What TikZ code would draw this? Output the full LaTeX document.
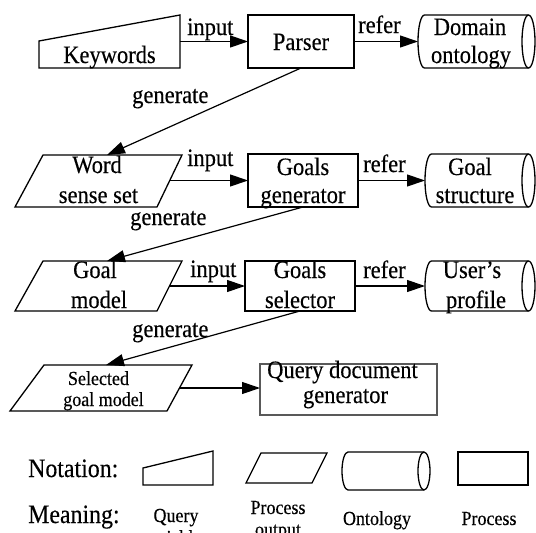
\documentclass[tikz,border=0pt]{standalone}
\usepackage{fontspec}
\setmainfont{Liberation Serif}[FakeStretch=0.9,FakeBold=0.3]
\usetikzlibrary{arrows.meta}
\newcommand\mycyl[6]{%
  % #1 left, #2 right, #3 top, #4 bottom, #5 x radius, #6 half height
  \draw[shp] (#1+#5,#3) -- (#2-#5,#3)
    arc[start angle=-90,end angle=90,x radius=#5,y radius=#6]
    -- (#1+#5,#4)
    arc[start angle=90,end angle=270,x radius=#5,y radius=#6] -- cycle;
  \draw[shp] (#2-#5,#3) arc[start angle=-90,end angle=-270,x radius=#5,y radius=#6];
}
\begin{document}
\begin{tikzpicture}[x=1pt,y=-1pt,
  shp/.style={draw=black, line width=1.3pt, line join=miter},
  proc/.style={draw=black, line width=1.3pt, rectangle, inner sep=0pt, outer sep=0pt},
  conn/.style={draw=black, line width=1.2pt, -{Triangle[length=18pt,width=12pt]}},
  txt/.style={inner sep=0pt, anchor=base, font=\fontsize{25}{29}\selectfont},
  lbl/.style={inner sep=0pt, anchor=base west, font=\fontsize{25}{29}\selectfont},
  small/.style={inner sep=0pt, anchor=base, font=\fontsize{20}{22}\selectfont},
  big/.style={inner sep=0pt, anchor=base west, font=\fontsize{26.5}{30}\selectfont},
]
\useasboundingbox (0,0) rectangle (536,533);
\clip (0,0) rectangle (536,533);

% ---------- Row 1 ----------
\draw[shp] (39,41) -- (180,15) -- (180,68) -- (39,68) -- cycle;
\coordinate (kw-r) at (180,41.5);
\node[txt] (kw-t) at (109.5,63) {Keywords};

\node[proc, minimum width=106pt, minimum height=53pt] (parser) at (301,41.5) {};
\node[txt] (parser-t) at (301,50) {Parser};

\mycyl{418}{535}{15}{68}{6.5}{26.5}
\coordinate (do-l) at (418,41.5);
\node[txt] (do-t1) at (470,35) {Domain};
\node[txt] (do-t2) at (471,63) {ontology};

% ---------- Row 2 ----------
\draw[shp] (43,155) -- (182,155) -- (157,207) -- (15,207) -- cycle;
\coordinate (wss-t) at (107,155);
\coordinate (wss-r) at (169.5,180.5);
\node[txt] (wss-t1) at (97,173) {Word};
\node[txt] (wss-t2) at (98.5,203) {sense set};

\node[proc, minimum width=110pt, minimum height=53pt] (gg) at (303,180.5) {};
\node[txt] (gg-t1) at (303,175) {Goals};
\node[txt] (gg-t2) at (303,203) {generator};

\mycyl{425}{535}{154}{207}{6.5}{26.5}
\coordinate (gst-l) at (425,180.5);
\node[txt] (gst-t1) at (470,175) {Goal};
\node[txt] (gst-t2) at (475,203) {structure};

% ---------- Row 3 ----------
\draw[shp] (43,261) -- (182,261) -- (157,311) -- (15,311) -- cycle;
\coordinate (gm-t) at (107,261);
\coordinate (gm-r) at (169.5,286);
\node[txt] (gm-t1) at (95,278) {Goal};
\node[txt] (gm-t2) at (99,308) {model};

\node[proc, minimum width=110pt, minimum height=50pt] (gs) at (300,286) {};
\node[txt] (gs-t1) at (300,278) {Goals};
\node[txt] (gs-t2) at (300,308) {selector};

\mycyl{425}{535}{261}{311}{6.5}{25}
\coordinate (up-l) at (425,286);
\node[txt] (up-t1) at (472,278) {User's};
\node[txt] (up-t2) at (476,308) {profile};

% ---------- Row 4 ----------
\draw[shp] (44,365) -- (192,365) -- (167,411) -- (10,411) -- cycle;
\coordinate (sgm-t) at (106,365);
\coordinate (sgm-r) at (179.5,388);
\node[small] (sgm-t1) at (98.5,385) {Selected};
\node[small] (sgm-t2) at (103.5,406) {goal model};

\node[proc, draw=black!65, line width=1.6pt, minimum width=177pt, minimum height=51pt] (qdg) at (348.5,389.5) {};
\node[txt] (qdg-t1) at (342.5,378) {Query document};
\node[txt] (qdg-t2) at (345.5,403) {generator};

% ---------- Connectors ----------
\draw[conn] (kw-r) -- (parser.west);
\draw[conn] (parser.east) -- (do-l);
\draw[conn] (parser.south) -- (wss-t);
\draw[conn] (wss-r) -- (gg.west);
\draw[conn] (gg.east) -- (gst-l);
\draw[conn] (gg.south) -- (gm-t);
\draw[conn] (gm-r) -- (gs.west);
\draw[conn] (gs.east) -- (up-l);
\draw[conn] (gs.south) -- (sgm-t);
\draw[conn] (sgm-r) -- (sgm-r -| qdg.west);

% ---------- Connector labels ----------
\node[lbl] (l-in1) at (187,35) {input};
\node[lbl] (l-rf1) at (358,33) {refer};
\node[lbl] (l-gn1) at (132,103) {generate};
\node[lbl] (l-in2) at (187,166) {input};
\node[lbl] (l-rf2) at (363,172) {refer};
\node[lbl] (l-gn2) at (130,225) {generate};
\node[lbl] (l-in3) at (190,277) {input};
\node[lbl] (l-rf3) at (363,278) {refer};
\node[lbl] (l-gn3) at (132,337) {generate};

% ---------- Legend ----------
\node[big] (notation) at (28,477) {Notation:};
\node[big] (meaning) at (28,523) {Meaning:};

\draw[shp] (143,468) -- (213,451) -- (213,485) -- (143,485) -- cycle;
\draw[shp] (261,453) -- (327,453) -- (312,483) -- (246,483) -- cycle;
\mycyl{342}{430}{452}{490}{6}{19}
\node[proc, minimum width=70pt, minimum height=33pt] (leg-proc) at (493,468.5) {};

\node[small] (m-q1) at (176,522) {Query};
\node[small] (m-q2) at (176,544) {variables};
\node[small] (m-p1) at (278,514) {Process};
\node[small] (m-p2) at (278,536) {output};
\node[small] (m-o) at (377,525) {Ontology};
\node[small] (m-pr) at (489,525) {Process};
\end{tikzpicture}
\end{document}
